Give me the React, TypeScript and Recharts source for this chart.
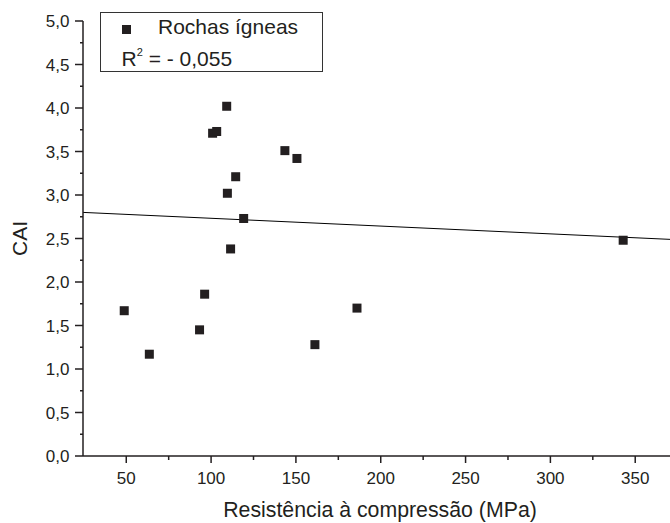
import React from 'react';
import { ScatterChart, Scatter, XAxis, YAxis, ReferenceLine } from 'recharts';

const strengthMPa = [48.8, 63.6, 93.2, 96.2, 100.9, 103.3, 109.2, 109.6, 111.5, 114.5, 119.2, 143.5, 150.6, 161.2, 186.0, 342.9];
const caiValues = [1.67, 1.17, 1.45, 1.86, 3.71, 3.73, 4.02, 3.02, 2.38, 3.21, 2.73, 3.51, 3.42, 1.28, 1.70, 2.48];
const trendX = [24.5, 370.5];
const trendY = [2.80, 2.49];
const xTicks = [50, 75, 100, 125, 150, 175, 200, 225, 250, 275, 300, 325, 350];
const yTicks = [0, 0.25, 0.5, 0.75, 1, 1.25, 1.5, 1.75, 2, 2.25, 2.5, 2.75, 3, 3.25, 3.5, 3.75, 4, 4.25, 4.5, 4.75, 5];

const data = strengthMPa.map((x, i) => ({ x, y: caiValues[i] }));
const FONT = '"Liberation Sans", Arial, sans-serif';
const INK = '#231f20';

const YTick = (props: any) => {
  const { x, y, payload } = props;
  const v = payload.value as number;
  const major = Math.abs(v * 2 - Math.round(v * 2)) < 1e-6;
  return (
    <g>
      <line x1={x - (major ? 8 : 3)} y1={y} x2={x} y2={y} stroke={INK} strokeWidth={1.5} />
      {major && (
        <text x={x - 13.5} y={y} dy={6} textAnchor="end" fontSize={17} fill={INK} fontFamily={FONT}>
          {v.toFixed(1).replace('.', ',')}
        </text>
      )}
    </g>
  );
};

const XTick = (props: any) => {
  const { x, y, payload } = props;
  const v = payload.value as number;
  const major = v % 50 === 0;
  return (
    <g>
      <line x1={x} y1={y} x2={x} y2={y + (major ? 7 : 4)} stroke={INK} strokeWidth={1.5} />
      {major && (
        <text x={x} y={y + 27.5} textAnchor="middle" fontSize={17} fill={INK} fontFamily={FONT}>
          {String(v)}
        </text>
      )}
    </g>
  );
};

const XTitle = (props: any) => {
  const vb = props.viewBox || {};
  return (
    <text x={vb.x + vb.width / 2 + 3.5} y={vb.y + 60.5} textAnchor="middle" fontSize={21.3} fill={INK} fontFamily={FONT}>
      Resistência à compressão (MPa)
    </text>
  );
};

const YTitle = (props: any) => {
  const vb = props.viewBox || {};
  const cx = 27;
  const cy = vb.y + vb.height / 2;
  return (
    <text x={cx} y={cy} transform={`rotate(-90 ${cx} ${cy})`} textAnchor="middle" fontSize={21} fill={INK} fontFamily={FONT}>
      CAI
    </text>
  );
};

const Square = (props: any) => {
  const { cx, cy } = props;
  if (cx == null || cy == null) return null;
  return <rect x={cx - 4.5} y={cy - 4.5} width={9} height={9} fill={INK} />;
};

export default function App() {
  return (
    <div style={{ position: 'absolute', left: 0, top: 0, width: 670, height: 523, background: '#fff', fontFamily: FONT }}>
      <ScatterChart width={670} height={523} margin={{ top: 21, right: 0, bottom: 0, left: 0 }}>
        <XAxis
          type="number"
          dataKey="x"
          domain={[24.5, 370.5]}
          ticks={xTicks}
          interval={0}
          tick={<XTick />}
          tickLine={false}
          tickSize={0}
          tickMargin={0}
          height={67}
          axisLine={{ stroke: INK, strokeWidth: 1.5 }}
          allowDataOverflow
          label={<XTitle />}
        />
        <YAxis
          type="number"
          dataKey="y"
          domain={[0, 5]}
          ticks={yTicks}
          interval={0}
          tick={<YTick />}
          tickLine={false}
          tickSize={0}
          tickMargin={0}
          width={83}
          axisLine={{ stroke: INK, strokeWidth: 1.5 }}
          allowDataOverflow
          label={<YTitle />}
        />
        <ReferenceLine
          segment={[{ x: trendX[0], y: trendY[0] }, { x: trendX[1], y: trendY[1] }]}
          stroke="#000"
          strokeWidth={1}
        />
        <Scatter data={data} shape={<Square />} isAnimationActive={false} />
      </ScatterChart>
      <div
        style={{
          position: 'absolute',
          left: 100,
          top: 12,
          width: 223,
          height: 60,
          border: '1px solid #333',
          background: '#fff',
          boxSizing: 'border-box',
          color: INK,
          fontFamily: FONT,
        }}
      >
        <div style={{ position: 'absolute', left: 21, top: 12, width: 9, height: 9, background: INK }} />
        <div style={{ position: 'absolute', left: 57, top: 1.5, fontSize: 21, lineHeight: '24px', whiteSpace: 'nowrap' }}>Rochas ígneas</div>
        <div style={{ position: 'absolute', left: 20.5, top: 33.5, fontSize: 21, lineHeight: '24px', whiteSpace: 'nowrap' }}>
          R<span style={{ fontSize: 11, position: 'relative', top: -10 }}>2</span> = - 0,055
        </div>
      </div>
    </div>
  );
}
